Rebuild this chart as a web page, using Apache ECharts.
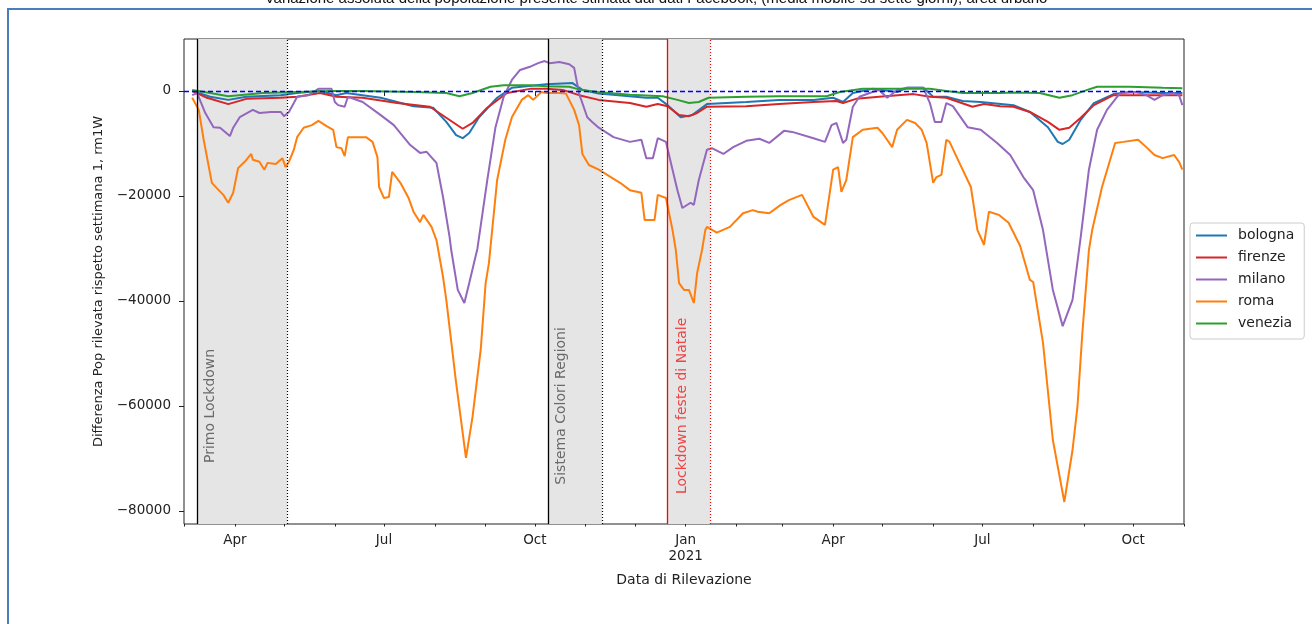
<!DOCTYPE html>
<html>
<head>
<meta charset="utf-8">
<script src="https://cdn.jsdelivr.net/npm/echarts@6/dist/echarts.min.js"></script>
<style>
  html, body { margin: 0; padding: 0; background: #fff; }
  #main { width: 1312px; height: 624px; }
</style>
</head>
<body>
<div id="main"></div>
<script>
// valori (differenza rispetto alla settimana 1)
var monthNames = ['Jan', 'Feb', 'Mar', 'Apr', 'May', 'Jun', 'Jul', 'Aug', 'Sep', 'Oct', 'Nov', 'Dec'];
var quarterTicks = ['2020-04-01', '2020-07-01', '2020-10-01', '2021-01-01', '2021-04-01', '2021-07-01', '2021-10-01'];
var monthTicks = ['2020-03-01', '2020-04-01', '2020-05-01', '2020-06-01', '2020-07-01', '2020-08-01', '2020-09-01',
  '2020-10-01', '2020-11-01', '2020-12-01', '2021-01-01', '2021-02-01', '2021-03-01', '2021-04-01', '2021-05-01',
  '2021-06-01', '2021-07-01', '2021-08-01', '2021-09-01', '2021-10-01', '2021-11-01'];
var yTicks = [0, -20000, -40000, -60000, -80000];

var bandStart = ['2020-03-09', '2020-10-09', '2020-12-21'];
var bandEnd = ['2020-05-03', '2020-11-11', '2021-01-16'];
var bandLabels = ['Primo Lockdown', 'Sistema Colori Regioni', 'Lockdown feste di Natale'];
var bandLabelDates = ['2020-03-17', '2020-10-17', '2020-12-30'];

var bologna = [['2020-03-06', 0], ['2020-03-17', -1100], ['2020-03-28', -1700], ['2020-04-08', -1100], ['2020-04-29', -800],
  ['2020-05-09', -400], ['2020-05-23', 0], ['2020-06-02', -800], ['2020-06-08', -400], ['2020-06-29', -1300],
  ['2020-07-19', -2900], ['2020-07-31', -3200], ['2020-08-08', -5900], ['2020-08-14', -8400], ['2020-08-18', -9000],
  ['2020-08-22', -8000], ['2020-08-28', -5000], ['2020-09-08', -1300], ['2020-09-17', 600], ['2020-10-08', 1300],
  ['2020-10-24', 1500], ['2020-10-30', 200], ['2020-11-09', -500], ['2020-12-08', -1300], ['2020-12-15', -1300],
  ['2020-12-21', -2700], ['2020-12-29', -5000], ['2021-01-05', -4600], ['2021-01-14', -2500], ['2021-02-07', -2100],
  ['2021-02-27', -1700], ['2021-03-20', -1700], ['2021-04-01', -1300], ['2021-04-07', -2100], ['2021-04-13', -400],
  ['2021-04-25', 400], ['2021-05-10', -200], ['2021-05-16', 600], ['2021-05-26', 600], ['2021-06-01', -1100],
  ['2021-06-09', -1100], ['2021-06-19', -1900], ['2021-06-30', -2100], ['2021-07-20', -2700], ['2021-07-30', -4000],
  ['2021-08-10', -6900], ['2021-08-16', -9700], ['2021-08-19', -10100], ['2021-08-23', -9300], ['2021-08-30', -5500],
  ['2021-09-07', -2300], ['2021-09-19', -600], ['2021-09-29', -200], ['2021-10-19', -400], ['2021-10-31', -400]];

var firenze = [['2020-03-06', 0], ['2020-03-15', -1300], ['2020-03-28', -2500], ['2020-04-08', -1500], ['2020-04-29', -1300],
  ['2020-05-09', -1100], ['2020-05-23', -400], ['2020-06-02', -1100], ['2020-06-18', -1300], ['2020-07-09', -2300],
  ['2020-07-29', -3000], ['2020-08-08', -5100], ['2020-08-18', -7200], ['2020-08-24', -6100], ['2020-09-02', -3200],
  ['2020-09-14', -400], ['2020-09-28', 400], ['2020-10-08', 400], ['2020-10-18', 200], ['2020-10-28', -800],
  ['2020-11-09', -1700], ['2020-11-28', -2300], ['2020-12-08', -3000], ['2020-12-15', -2500], ['2020-12-21', -2900],
  ['2020-12-28', -4600], ['2021-01-03', -4800], ['2021-01-08', -4200], ['2021-01-14', -3000], ['2021-02-07', -2900],
  ['2021-02-27', -2500], ['2021-03-20', -2100], ['2021-04-03', -1900], ['2021-04-07', -2300], ['2021-04-15', -1500],
  ['2021-04-29', -1100], ['2021-05-20', -600], ['2021-05-30', -1100], ['2021-06-09', -1300], ['2021-06-25', -3000],
  ['2021-07-02', -2500], ['2021-07-12', -2900], ['2021-07-20', -3000], ['2021-07-30', -4000], ['2021-08-10', -5900],
  ['2021-08-17', -7400], ['2021-08-23', -7000], ['2021-08-30', -5100], ['2021-09-07', -2700], ['2021-09-19', -800],
  ['2021-10-09', -800], ['2021-10-31', -800]];

var milano = [['2020-03-06', -800], ['2020-03-09', -400], ['2020-03-14', -4200], ['2020-03-19', -6900], ['2020-03-23', -7000],
  ['2020-03-29', -8600], ['2020-03-31', -7000], ['2020-04-04', -5000], ['2020-04-12', -3600], ['2020-04-16', -4200],
  ['2020-04-23', -4000], ['2020-04-29', -4000], ['2020-05-01', -4800], ['2020-05-04', -4000], ['2020-05-07', -2300],
  ['2020-05-09', -1100], ['2020-05-16', -800], ['2020-05-22', 400], ['2020-05-30', 400], ['2020-06-01', -2100],
  ['2020-06-03', -2700], ['2020-06-07', -3000], ['2020-06-09', -1100], ['2020-06-18', -2100], ['2020-06-29', -4600],
  ['2020-07-07', -6500], ['2020-07-17', -10300], ['2020-07-23', -11800], ['2020-07-27', -11600], ['2020-08-02', -13700],
  ['2020-08-06', -20200], ['2020-08-10', -27800], ['2020-08-11', -30300], ['2020-08-15', -37900], ['2020-08-19', -40400],
  ['2020-08-22', -36600], ['2020-08-27', -30000], ['2020-09-02', -17000], ['2020-09-07', -6900], ['2020-09-12', -1100],
  ['2020-09-17', 2100], ['2020-09-22', 4000], ['2020-09-28', 4600], ['2020-10-03', 5300], ['2020-10-07', 5700],
  ['2020-10-10', 5300], ['2020-10-16', 5500], ['2020-10-22', 5100], ['2020-10-25', 4400], ['2020-10-28', -500],
  ['2020-11-02', -5000], ['2020-11-05', -5900], ['2020-11-09', -7000], ['2020-11-18', -8800], ['2020-11-28', -9700],
  ['2020-12-05', -9300], ['2020-12-08', -12800], ['2020-12-12', -12800], ['2020-12-15', -9000], ['2020-12-20', -9700],
  ['2020-12-24', -15000], ['2020-12-27', -18900], ['2020-12-30', -22300], ['2021-01-04', -21300], ['2021-01-06', -21700],
  ['2021-01-09', -17000], ['2021-01-14', -11200], ['2021-01-17', -10900], ['2021-01-24', -12000], ['2021-01-30', -10700],
  ['2021-02-07', -9500], ['2021-02-15', -9100], ['2021-02-21', -9900], ['2021-03-02', -7600], ['2021-03-07', -7800],
  ['2021-03-20', -9000], ['2021-03-27', -9700], ['2021-03-31', -6500], ['2021-04-03', -6100], ['2021-04-07', -9900],
  ['2021-04-09', -9300], ['2021-04-13', -3000], ['2021-04-17', -1100], ['2021-04-25', -200], ['2021-04-29', 200],
  ['2021-05-04', -1300], ['2021-05-10', 200], ['2021-05-16', 600], ['2021-05-26', 600], ['2021-05-30', -2300],
  ['2021-06-02', -5900], ['2021-06-06', -5900], ['2021-06-09', -2300], ['2021-06-13', -2900], ['2021-06-22', -6900],
  ['2021-06-30', -7400], ['2021-07-10', -9900], ['2021-07-18', -12200], ['2021-07-26', -16400], ['2021-08-01', -18900],
  ['2021-08-07', -26500], ['2021-08-13', -37900], ['2021-08-19', -44800], ['2021-08-25', -39800], ['2021-08-30', -27800],
  ['2021-09-04', -15000], ['2021-09-09', -7400], ['2021-09-15', -3600], ['2021-09-23', -400], ['2021-10-03', -200],
  ['2021-10-09', -800], ['2021-10-14', -1700], ['2021-10-19', -800], ['2021-10-25', -400], ['2021-10-29', -800],
  ['2021-10-31', -2700]];

var roma = [['2020-03-06', -1300], ['2020-03-10', -3600], ['2020-03-13', -9300], ['2020-03-18', -17500], ['2020-03-21', -18500],
  ['2020-03-25', -19800], ['2020-03-28', -21300], ['2020-03-31', -19400], ['2020-04-03', -14700], ['2020-04-07', -13500],
  ['2020-04-11', -12000], ['2020-04-12', -13100], ['2020-04-16', -13500], ['2020-04-19', -15000], ['2020-04-21', -13700],
  ['2020-04-26', -13900], ['2020-04-30', -12800], ['2020-05-02', -14500], ['2020-05-04', -13500], ['2020-05-07', -11200],
  ['2020-05-09', -8800], ['2020-05-13', -7000], ['2020-05-18', -6500], ['2020-05-22', -5700], ['2020-05-27', -6700],
  ['2020-05-31', -7400], ['2020-06-02', -10700], ['2020-06-05', -10900], ['2020-06-07', -12400], ['2020-06-09', -8800],
  ['2020-06-16', -8800], ['2020-06-20', -8800], ['2020-06-24', -9700], ['2020-06-27', -12600], ['2020-06-28', -18300],
  ['2020-07-01', -20400], ['2020-07-04', -20200], ['2020-07-06', -15400], ['2020-07-11', -17500], ['2020-07-16', -20400],
  ['2020-07-19', -23000], ['2020-07-23', -25000], ['2020-07-25', -23600], ['2020-07-30', -25900], ['2020-08-02', -28400],
  ['2020-08-06', -35400], ['2020-08-08', -39800], ['2020-08-14', -55600], ['2020-08-20', -69900], ['2020-08-24', -62100],
  ['2020-08-29', -49300], ['2020-09-01', -36600], ['2020-09-03', -32800], ['2020-09-08', -17000], ['2020-09-13', -9300],
  ['2020-09-17', -5000], ['2020-09-23', -1700], ['2020-09-27', -800], ['2020-09-30', -1700], ['2020-10-05', -200],
  ['2020-10-08', -400], ['2020-10-16', -400], ['2020-10-20', -500], ['2020-10-25', -3600], ['2020-10-28', -6500],
  ['2020-10-30', -12000], ['2020-11-03', -14100], ['2020-11-09', -15000], ['2020-11-22', -17500], ['2020-11-28', -18900],
  ['2020-12-05', -19400], ['2020-12-07', -24600], ['2020-12-13', -24600], ['2020-12-15', -19800], ['2020-12-20', -20400],
  ['2020-12-24', -26500], ['2020-12-26', -30300], ['2020-12-28', -36600], ['2020-12-31', -37900], ['2021-01-03', -37900],
  ['2021-01-06', -40400], ['2021-01-08', -34700], ['2021-01-11', -30300], ['2021-01-13', -26500], ['2021-01-14', -25900],
  ['2021-01-20', -27000], ['2021-01-28', -25900], ['2021-02-05', -23300], ['2021-02-11', -22700], ['2021-02-14', -23000],
  ['2021-02-21', -23300], ['2021-02-28', -21700], ['2021-03-05', -20800], ['2021-03-13', -19800], ['2021-03-20', -24000],
  ['2021-03-27', -25500], ['2021-04-01', -15000], ['2021-04-04', -14500], ['2021-04-06', -19200], ['2021-04-09', -17000],
  ['2021-04-13', -8800], ['2021-04-19', -7400], ['2021-04-28', -7000], ['2021-05-01', -8000], ['2021-05-07', -10700],
  ['2021-05-10', -7400], ['2021-05-16', -5500], ['2021-05-21', -6100], ['2021-05-25', -7400], ['2021-05-28', -9900],
  ['2021-06-01', -17500], ['2021-06-03', -16400], ['2021-06-06', -16000], ['2021-06-09', -9300], ['2021-06-11', -9700],
  ['2021-06-17', -13700], ['2021-06-24', -18300], ['2021-06-28', -26500], ['2021-07-02', -29300], ['2021-07-05', -23000],
  ['2021-07-11', -23600], ['2021-07-17', -25100], ['2021-07-24', -29500], ['2021-07-30', -36000], ['2021-08-01', -36400],
  ['2021-08-07', -48000], ['2021-08-13', -66500], ['2021-08-20', -78300], ['2021-08-25', -68400], ['2021-08-28', -60200],
  ['2021-08-31', -46100], ['2021-09-04', -30300], ['2021-09-06', -26500], ['2021-09-12', -18300], ['2021-09-20', -9900],
  ['2021-09-25', -9700], ['2021-10-04', -9300], ['2021-10-09', -10700], ['2021-10-14', -12200], ['2021-10-19', -12800],
  ['2021-10-26', -12200], ['2021-10-29', -13500], ['2021-10-31', -15000]];

var venezia = [['2020-03-06', 200], ['2020-03-17', -400], ['2020-03-28', -1000], ['2020-04-18', -400], ['2020-05-09', -200],
  ['2020-05-30', 0], ['2020-06-18', 0], ['2020-07-19', -200], ['2020-08-08', -400], ['2020-08-16', -1000],
  ['2020-08-24', -400], ['2020-09-04', 800], ['2020-09-12', 1100], ['2020-09-28', 1100], ['2020-10-08', 900],
  ['2020-10-22', 800], ['2020-10-28', 300], ['2020-11-08', -200], ['2020-11-28', -700], ['2020-12-18', -1000],
  ['2020-12-27', -1700], ['2021-01-03', -2300], ['2021-01-09', -2100], ['2021-01-15', -1300], ['2021-02-07', -1100],
  ['2021-02-27', -1000], ['2021-03-28', -1000], ['2021-04-05', -200], ['2021-04-19', 400], ['2021-05-10', 400],
  ['2021-05-30', 400], ['2021-06-09', 0], ['2021-06-19', -400], ['2021-07-12', -400], ['2021-07-20', -300],
  ['2021-08-05', -400], ['2021-08-17', -1300], ['2021-08-25', -800], ['2021-09-03', 200], ['2021-09-09', 800],
  ['2021-09-29', 800], ['2021-10-19', 600], ['2021-10-31', 500]];

map();

function map() {
  var myChart = echarts.init(document.getElementById('main'));
  var t = function (s) { return +echarts.time.parse(s); };
  var font = 'DejaVu Sans';

  function line(name, data, color) {
    return {
      name: name,
      type: 'line',
      data: data.map(function (d) { return [t(d[0]), d[1]]; }),
      showSymbol: false,
      symbol: 'none',
      smooth: false,
      z: 3,
      lineStyle: { color: color, width: 2 },
      itemStyle: { color: color }
    };
  }

  var bandColors = ['#000', '#000', '#ff0000'];
  var vLines = [];
  var areas = [];
  for (var i = 0; i < bandStart.length; i++) {
    areas.push([{ xAxis: t(bandStart[i]) }, { xAxis: t(bandEnd[i]) }]);
    vLines.push({ xAxis: t(bandStart[i]), lineStyle: { color: bandColors[i], type: 'solid', width: 1.3 } });
    vLines.push({ xAxis: t(bandEnd[i]), lineStyle: { color: bandColors[i], type: [1, 2], width: 1.2 } });
  }

  var xMin = t('2020-03-01'), xMax = t('2021-11-01');

  var option = {
    animation: false,
    backgroundColor: '#fff',
    grid: {
      left: 184, top: 39, width: 1000, height: 485,
      show: true, borderColor: '#222', borderWidth: 1, backgroundColor: 'transparent'
    },
    legend: {
      orient: 'vertical',
      left: 1190, top: 223,
      data: ['bologna', 'firenze', 'milano', 'roma', 'venezia'],
      icon: 'rect',
      itemWidth: 31, itemHeight: 2,
      itemGap: 5,
      padding: [4, 10, 7, 6],
      borderColor: '#cccccc', borderWidth: 1, borderRadius: 3,
      backgroundColor: '#fff',
      textStyle: { fontFamily: font, fontSize: 14, color: '#222', lineHeight: 17, padding: [0, 0, 0, 6] }
    },
    xAxis: [{
      type: 'value',
      min: xMin, max: xMax,
      position: 'bottom',
      name: 'Data di Rilevazione',
      nameLocation: 'middle',
      nameGap: 49,
      nameTextStyle: { fontFamily: font, fontSize: 14, color: '#222' },
      axisLine: { show: false },
      splitLine: { show: false },
      axisTick: {
        show: true, length: 5, lineStyle: { color: '#222' },
        customValues: quarterTicks.map(t)
      },
      axisLabel: {
        margin: 8,
        fontFamily: font, fontSize: 13.5, color: '#222', lineHeight: 16,
        customValues: quarterTicks.map(t),
        formatter: function (v) {
          var d = new Date(v);
          var m = monthNames[d.getMonth()];
          return d.getMonth() === 0 ? m + '\n' + d.getFullYear() : m;
        }
      }
    }, {
      type: 'value',
      min: xMin, max: xMax,
      position: 'bottom',
      axisLine: { show: false },
      splitLine: { show: false },
      axisLabel: { show: false },
      axisTick: {
        show: true, length: 2.5, lineStyle: { color: '#222' },
        customValues: monthTicks.map(t)
      }
    }],
    yAxis: {
      type: 'value',
      min: -82500, max: 9900,
      name: 'Differenza Pop rilevata rispetto settimana 1, rm1W',
      nameLocation: 'middle',
      nameGap: 79,
      nameRotate: 90,
      nameTextStyle: { fontFamily: font, fontSize: 13, color: '#222' },
      axisLine: { show: false },
      splitLine: { show: false },
      axisTick: { show: true, length: 5, lineStyle: { color: '#222' }, customValues: yTicks },
      axisLabel: {
        margin: 13,
        fontFamily: font, fontSize: 13.5, color: '#222',
        customValues: yTicks,
        formatter: function (v) { return v < 0 ? '\u2212' + (-v) : String(v); }
      }
    },
    series: [{
      name: 'refs',
      type: 'line',
      data: [],
      z: 1,
      silent: true,
      markArea: { silent: true, itemStyle: { color: '#e5e5e5' }, data: areas },
      markLine: { silent: true, symbol: ['none', 'none'], label: { show: false }, data: vLines }
    },
      line('bologna', bologna, '#1f77b4'),
      line('firenze', firenze, '#d62728'),
      line('milano', milano, '#9467bd'),
      line('roma', roma, '#ff7f0e'),
      line('venezia', venezia, '#2ca02c'),
    {
      name: 'zero',
      type: 'line',
      data: [],
      z: 5,
      silent: true,
      color: '#0000ff',
      markLine: {
        silent: true, symbol: ['none', 'none'], label: { show: false },
        data: [{ yAxis: 0, lineStyle: { color: '#0000ff', type: [5, 3], width: 1.3 } }]
      }
    }]
  };

  myChart.setOption(option);

  // testi verticali e cornice
  var graphics = [{
    type: 'rect',
    shape: { x: 8, y: 9, width: 1400, height: 700 },
    style: { fill: 'none', stroke: '#4a7ebb', lineWidth: 2 },
    silent: true, z: 0
  }, {
    type: 'text',
    x: 656, y: -1,
    style: {
      text: 'Variazione assoluta della popolazione presente stimata dai dati Facebook, (media mobile su sette giorni), area urbano',
      font: '15px "Liberation Sans"', fill: '#111', align: 'center', verticalAlign: 'middle'
    },
    silent: true
  }];
  var textColors = ['#6a6a6a', '#6a6a6a', '#ee4444'];
  for (var j = 0; j < bandLabels.length; j++) {
    var p = myChart.convertToPixel({ xAxisIndex: 0, yAxisIndex: 0 }, [t(bandLabelDates[j]), -60000]);
    graphics.push({
      type: 'text',
      x: p[0], y: p[1],
      rotation: Math.PI / 2,
      style: {
        text: bandLabels[j], font: '14px "DejaVu Sans"', fill: textColors[j],
        align: 'center', verticalAlign: 'middle'
      },
      silent: true, z: 10
    });
  }
  myChart.setOption({ graphic: graphics });

  window.addEventListener('resize', function () {
    myChart.resize();
  });
}
</script>
</body>
</html>
